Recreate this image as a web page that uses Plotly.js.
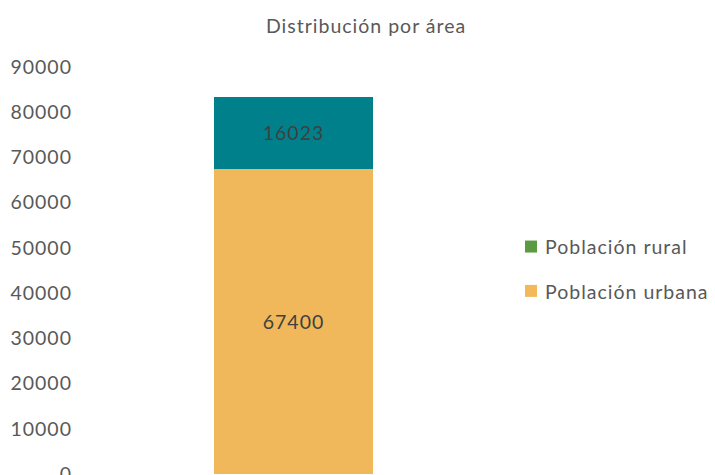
<!DOCTYPE html>
<html>
<head>
<meta charset="utf-8">
<script src="https://cdn.plot.ly/plotly-3.0.1.min.js"></script>
<style>
html,body{margin:0;padding:0;background:#fff;}
#chart{width:715px;height:475px;}
#chart svg text{letter-spacing:1px;}
#chart .legend .scrollbox{clip-path:none !important;}
#chart .legend .legendtext{transform:translateX(-6px);}
</style>
</head>
<body>
<div id="chart"></div>
<script>
var categories = ["Total"];
var seriesNames = ["Población urbana", "Población rural"];
var urbanValues = [67400];
var ruralValues = [16023];
var yTickValues = [0, 10000, 20000, 30000, 40000, 50000, 60000, 70000, 80000, 90000];

var FONT = "Lato, 'Open Sans', sans-serif";
var FS = 19.5;
var barColors = {urban: "#F0B85A", rural: "#00808A"};
var legendColors = {urban: "#F2B85A", rural: "#5A9A42"};

var traces = [
  {type: "bar", x: categories, y: urbanValues, name: seriesNames[0], marker: {color: barColors.urban},
   text: urbanValues.map(String), textposition: "inside", insidetextanchor: "middle", constraintext: "none",
   textfont: {family: FONT, size: FS, color: "#404040"}, showlegend: false, hoverinfo: "y"},
  {type: "bar", x: categories, y: ruralValues, name: seriesNames[1], marker: {color: barColors.rural},
   text: ruralValues.map(String), textposition: "inside", insidetextanchor: "middle", constraintext: "none",
   textfont: {family: FONT, size: FS, color: "#404040"}, showlegend: false, hoverinfo: "y"},
  {type: "bar", x: categories, y: [null], name: seriesNames[1], legendgroup: "r", marker: {color: legendColors.rural}, showlegend: true},
  {type: "bar", x: categories, y: [null], name: seriesNames[0], legendgroup: "u", marker: {color: legendColors.urban}, showlegend: true}
];

var layout = {
  width: 715, height: 475,
  barmode: "stack",
  bargap: 0.628,
  paper_bgcolor: "#fff", plot_bgcolor: "#fff",
  margin: {l: 80, r: 208, t: 67, b: 1},
  title: {text: "Distribución por área", font: {family: FONT, size: FS, color: "#595959"}, x: 0.512, xanchor: "center", y: 0.945, yanchor: "middle"},
  xaxis: {showticklabels: false, showgrid: false, zeroline: false, showline: false, ticks: ""},
  yaxis: {range: [0, 90000], tickvals: yTickValues, ticktext: yTickValues.map(String), showgrid: false, zeroline: false, showline: false,
          tickfont: {family: FONT, size: FS, color: "#595959"}, ticks: "", ticklabelstandoff: 7, ticklabeloverflow: "allow"},
  legend: {x: 1.0094, y: 0.504, xanchor: "left", yanchor: "middle", traceorder: "grouped", bgcolor: "rgba(0,0,0,0)",
           font: {family: FONT, size: FS, color: "#595959"}, tracegroupgap: 16, itemwidth: 30},
  showlegend: true
};

Plotly.newPlot("chart", traces, layout, {displayModeBar: false, staticPlot: true});
</script>
</body>
</html>
